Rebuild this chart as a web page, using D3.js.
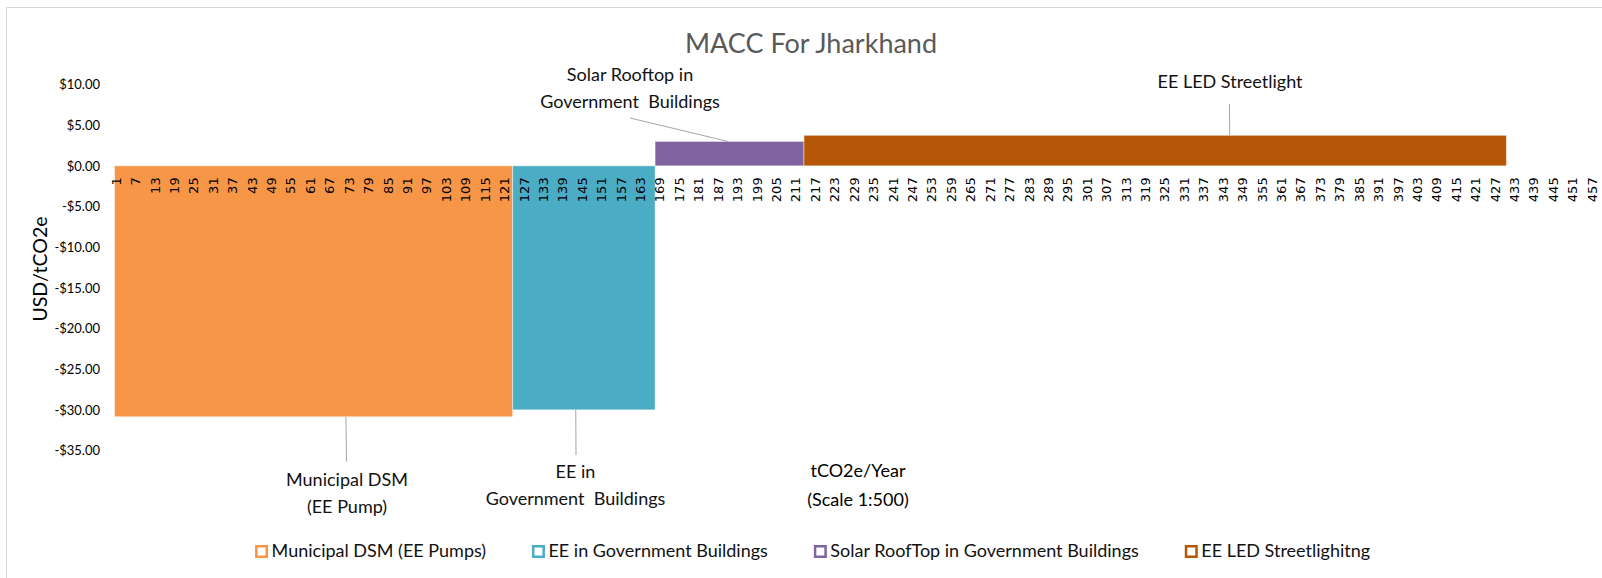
<!DOCTYPE html>
<html>
<head>
<meta charset="utf-8">
<script src="https://cdn.jsdelivr.net/npm/d3@7"></script>
<style>
  body { margin: 0; background: #fff; }
  svg { display: block; font-family: Lato, "Open Sans", sans-serif; }
</style>
</head>
<body>
<svg id="chart" width="1602" height="578"></svg>
<script>
// MACC data: each measure's abatement (in 1:500 tCO2e units) and cost
const seriesNames  = ["Municipal DSM (EE Pumps)", "EE in Government Buildings",
                      "Solar RoofTop in Government Buildings", "EE LED Streetlighitng"];
const seriesWidths = [123, 44, 46, 217];
const seriesCosts  = [-30.85, -30.0, 3.0, 3.75];
const seriesColors = ["#F79646", "#4BACC6", "#8064A2", "#B55707"];

const categoryCount = 459;
const xTickValues = d3.range(1, categoryCount + 1, 6);
const yTickValues = d3.range(-35, 11, 5);

// callout texts with the category they point at
const calloutLines = [["Municipal DSM", "(EE Pump)"], ["EE in", "Government  Buildings"],
                      ["Solar Rooftop in", "Government  Buildings"], ["EE LED Streetlight"]];
const calloutCats  = [72, 143, 190, 345];

const svg = d3.select("#chart");

const x = d3.scaleBand()
  .domain(d3.range(1, categoryCount + 1))
  .range([114.5, 114.5 + categoryCount * 3.237]);

const y = d3.scaleLinear()
  .domain([-35, 10])
  .range([450.5, 84.5]);

// chart area border
svg.append("rect")
  .attr("x", 6.5).attr("y", 7.5)
  .attr("width", 1700).attr("height", 700)
  .attr("fill", "none")
  .attr("stroke", "#d9d9d9");

// cumulative start category of each block
let starts = [];
let acc = 1;
for (let w of seriesWidths) {
  starts.push(acc);
  acc += w;
}

svg.append("g").selectAll("rect")
  .data(seriesNames)
  .join("rect")
  .attr("x", (d, i) => x(starts[i]))
  .attr("width", (d, i) => x(starts[i] + seriesWidths[i] - 1) + x.bandwidth() - x(starts[i]))
  .attr("y", (d, i) => y(Math.max(0, seriesCosts[i])))
  .attr("height", (d, i) => Math.abs(y(seriesCosts[i]) - y(0)))
  .attr("fill", (d, i) => seriesColors[i])
  .attr("stroke", "#fff")
  .attr("stroke-opacity", 0.45)
  .attr("stroke-width", 1);

// y axis
const money = d3.format(".2f");
const yAxis = svg.append("g")
  .attr("transform", "translate(100,0)")
  .call(d3.axisLeft(y)
    .tickValues(yTickValues)
    .tickSize(0)
    .tickPadding(0)
    .tickFormat(d => (d < 0 ? "-$" : "$") + money(Math.abs(d))));
yAxis.select(".domain").remove();
yAxis.selectAll("text")
  .attr("font-family", "Lato")
  .attr("font-size", 13)
  .attr("fill", "#000");

// x axis, rotated labels under the zero line
const xAxis = svg.append("g")
  .attr("transform", `translate(0,${y(0)})`)
  .call(d3.axisBottom(x).tickValues(xTickValues).tickSize(0));
xAxis.select(".domain").remove();
xAxis.selectAll("text")
  .attr("transform", "rotate(-90)")
  .attr("x", -11.5)
  .attr("y", 0)
  .attr("dy", "0.35em")
  .attr("text-anchor", "end")
  .attr("font-family", "DejaVu Sans")
  .attr("font-size", 13)
  .attr("fill", "#000");

// title
svg.append("text")
  .attr("x", 811).attr("y", 53)
  .attr("text-anchor", "middle")
  .attr("font-size", 27)
  .attr("fill", "#595959")
  .text("MACC For Jharkhand");

// axis titles
svg.append("text")
  .attr("transform", "translate(46.5,269) rotate(-90)")
  .attr("text-anchor", "middle")
  .attr("font-size", 19.5)
  .attr("fill", "#000")
  .text("USD/tCO2e");

const xTitle = svg.append("text")
  .attr("text-anchor", "middle")
  .attr("font-size", 18)
  .attr("fill", "#000");
["tCO2e/Year", "(Scale 1:500)"].forEach((t, i) =>
  xTitle.append("tspan").attr("x", 858).attr("y", 477 + i * 29).text(t));

// callouts: leader line from the bar edge to the label
const calloutText = [
  {tx: 347, ty: 486, lx: 346.5, ly: 461.5},
  {tx: 575.5, ty: 478, lx: 576, ly: 455},
  {tx: 630, ty: 81, lx: 630, ly: 118},
  {tx: 1230, ty: 88, lx: 1229.5, ly: 104}
];

calloutLines.forEach((lines, i) => {
  const c = calloutText[i];
  const bx = x(calloutCats[i]) + x.bandwidth() / 2;
  svg.append("line")
    .attr("x1", bx).attr("y1", y(seriesCosts[i]))
    .attr("x2", c.lx).attr("y2", c.ly)
    .attr("stroke", "#a6a6a6")
    .attr("stroke-width", 1);

  const t = svg.append("text")
    .attr("text-anchor", "middle")
    .attr("font-size", 18)
    .attr("fill", "#111")
    .style("white-space", "pre");
  lines.forEach((l, j) =>
    t.append("tspan").attr("x", c.tx).attr("y", c.ty + j * 26.5).text(l));
});

// legend, centred under the plot
const legend = svg.append("g");
const items = legend.selectAll("g")
  .data(seriesNames)
  .join("g");
items.append("rect")
  .attr("x", 1.25).attr("y", -10.75)
  .attr("width", 10.5).attr("height", 10.5)
  .attr("fill", "#fff")
  .attr("stroke", (d, i) => seriesColors[i])
  .attr("stroke-width", 2.5);
items.append("text")
  .attr("x", 16.5).attr("y", 0)
  .attr("font-size", 18)
  .attr("fill", "#111")
  .text(d => d);

let lx = 0;
items.each(function() {
  const w = this.getBBox().width;
  d3.select(this).attr("transform", `translate(${lx},557)`);
  lx += w + 47;
});
legend.attr("transform", `translate(${812 - (lx - 47) / 2},0)`);
</script>
</body>
</html>
